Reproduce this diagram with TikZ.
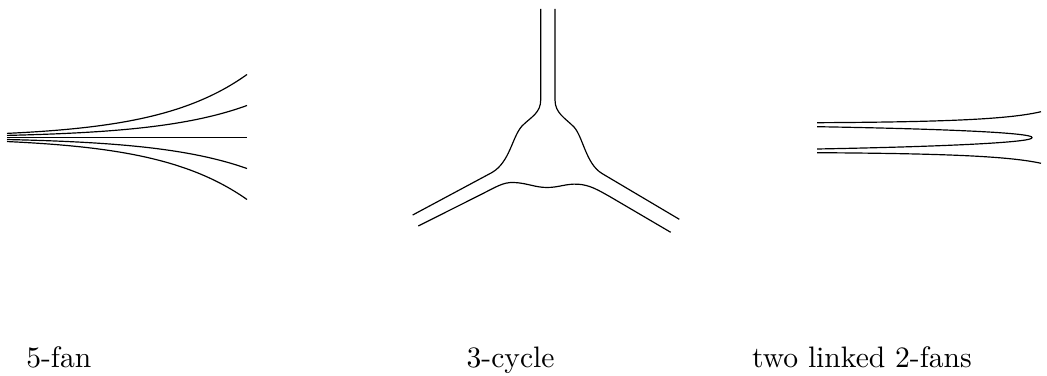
\documentclass[tikz,border=0pt]{standalone}
\begin{document}
\begin{tikzpicture}[x=0.01187cm, y=0.01187cm, caption/.style={anchor=base west, inner sep=0pt}]
    \useasboundingbox (0,0) rectangle (1047,375);
    % 5-fan
    \draw plot[domain=7:247, samples=60] (\x,{237.5+63*exp((\x-247)/88)});
    \draw plot[domain=7:247, samples=60] (\x,{237.5+32*exp((\x-247)/88)});
    \draw (7,237.5) -- (247,237.5);
    \draw plot[domain=7:247, samples=60] (\x,{237.5-31*exp((\x-247)/88)});
    \draw plot[domain=7:247, samples=60] (\x,{237.5-62*exp((\x-247)/88)});
    % 3-cycle
    \draw (540.7,366) -- (540.7,275) .. controls (540.7,262) and (531,258) .. (522,249)
        .. controls (512,238) and (510,213) .. (492,202.5) -- (412.7,160);
    \draw (555,366) -- (555,275) .. controls (555,262) and (565,257) .. (574,248)
        .. controls (583,238) and (586,211) .. (602,201.5) -- (679.3,155.7);
    \draw (418.3,149) -- (480,180) .. controls (496,188) and (503,193) .. (514,192.5)
        .. controls (527,192) and (535,187.5) .. (547,187.5)
        .. controls (559,187.5) and (566,191.5) .. (578,190.8)
        .. controls (590,190) and (598,185) .. (610,178.3) -- (670.7,142.7);
    % two linked 2-fans
    \draw (817,252.3) .. controls (950,253) and (1010,256) .. (1041,263.3);
    \draw (817,248.3) .. controls (950,246) and (1034,242) .. (1032,237.4) .. controls (1034,232.8) and (950,228.5) .. (817,226);
    \draw (817,222.3) .. controls (950,221.5) and (1010,218.5) .. (1041,211.7);
    % Captions
    \node[caption] (fan) at (25.7,8) {5-fan};
    \node[caption] (cycle) at (466,8) {3-cycle};
    \node[caption] (linked) at (751.5,8) {two linked 2-fans};
\end{tikzpicture}
\end{document}
